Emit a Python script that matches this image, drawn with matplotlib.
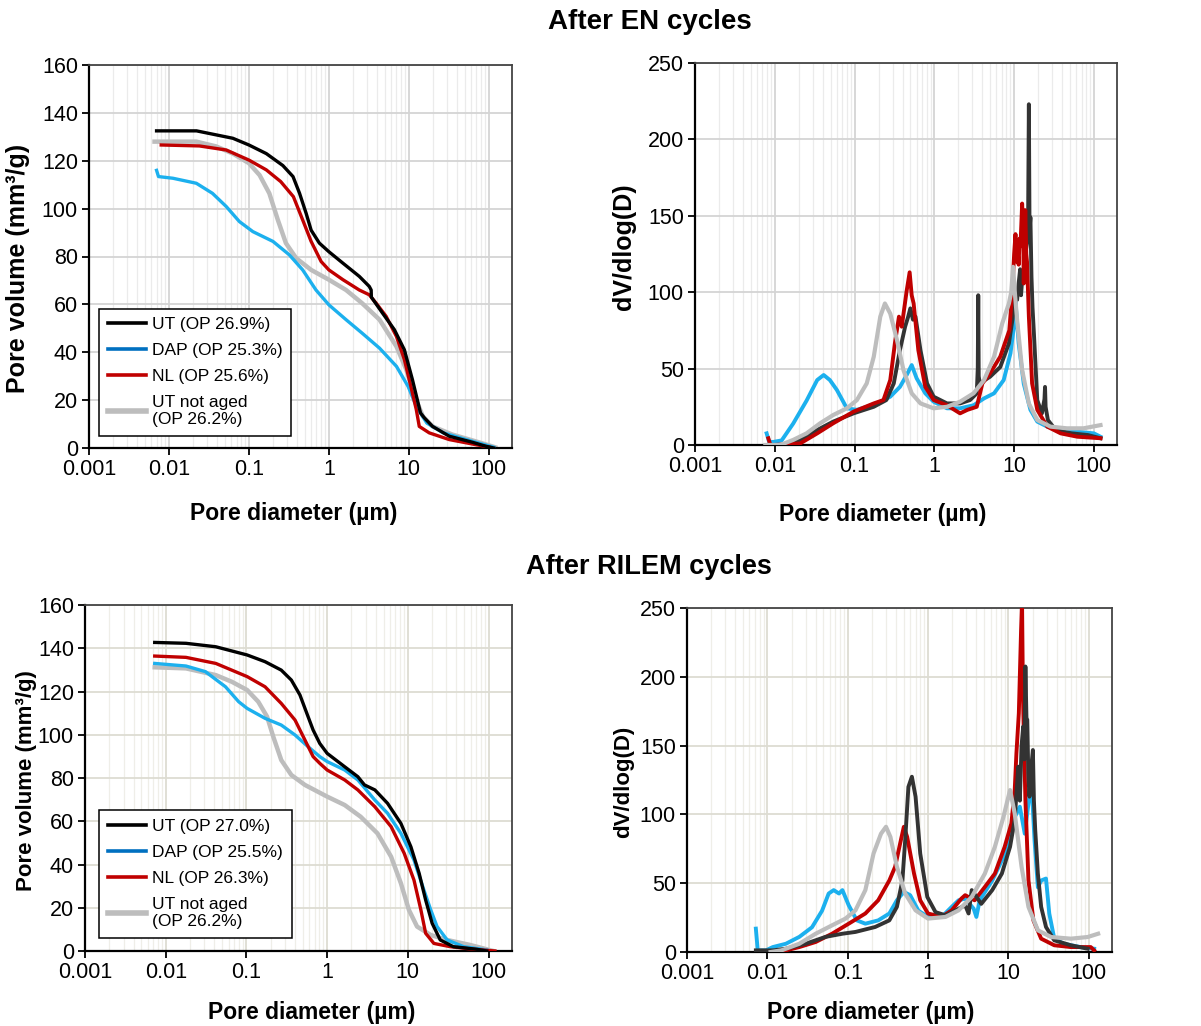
import matplotlib
matplotlib.use('Agg')
import matplotlib.pyplot as plt
from matplotlib.lines import Line2D
from matplotlib.ticker import FixedLocator, LogLocator, NullFormatter, MultipleLocator

plt.rcParams['font.family'] = ['Liberation Sans', 'DejaVu Sans']

# ---------------- data ----------------
# After EN cycles, cumulative pore volume (mm3/g)
en_cum_ut_d = [0.007, 0.0221, 0.063, 0.1, 0.165, 0.266, 0.356, 0.43, 0.52, 0.6, 0.76, 1.0, 1.5, 2.4,
               3.2, 3.38, 3.4, 4.7, 6.6, 8.8, 11.1, 14, 15.7, 19.8, 32, 62, 92, 115]
en_cum_ut_v = [132.5, 132.5, 129.4, 126.6, 123, 118, 113.4, 106.4, 98, 91, 85.6, 82, 77.2, 71.7,
               67.5, 66, 63, 56.3, 49.4, 41, 28.5, 14.6, 12.5, 9, 4.9, 2.4, 0.7, 0]
en_cum_dap_d = [0.007, 0.0074, 0.0112, 0.022, 0.035, 0.052, 0.076, 0.112, 0.2, 0.32, 0.47, 0.69, 1.0,
                1.64, 2.6, 4.3, 7.0, 9.8, 12.4, 16.8, 27, 52, 115]
en_cum_dap_v = [116, 113.4, 112.7, 110.6, 106.4, 100.9, 94.6, 90.4, 86.3, 80.7, 74.4, 66, 59.8,
                53.6, 48, 41.7, 34.1, 25.7, 17.4, 10.4, 6.3, 3.5, 0.3]
en_cum_nl_d = [0.008, 0.024, 0.052, 0.1, 0.165, 0.25, 0.36, 0.47, 0.6, 0.8, 1.0, 1.5, 2.4, 3.2, 3.9,
               5.2, 7.0, 8.8, 10.6, 12.4, 13.5, 18, 32, 68, 100]
en_cum_nl_v = [126.6, 126.2, 124.5, 120.3, 116.2, 111.3, 105, 95.3, 86.3, 77.9, 74.4, 70.3, 66, 64,
               60.5, 55, 46.6, 36.9, 25.7, 16, 9, 6.3, 3.5, 1.4, 0.4]
en_cum_na_d = [0.0066, 0.022, 0.039, 0.063, 0.1, 0.136, 0.18, 0.23, 0.29, 0.39, 0.6, 1.0, 1.64, 2.6,
               4.3, 7.0, 9.3, 11.8, 15, 19.8, 35, 68, 120]
en_cum_na_v = [128, 128, 126, 123, 119, 114, 106.4, 95.3, 85.6, 79.3, 74.4, 70.3, 66, 60.5,
               53.6, 42.4, 32.7, 21.6, 13.2, 9, 5.6, 2.8, 0.3]

# After EN cycles, dV/dlog(D)
en_psd_ut_d = [0.0096, 0.0141, 0.0208, 0.034, 0.054, 0.097, 0.174, 0.25, 0.31, 0.37, 0.43, 0.47, 0.5,
               0.54, 0.58, 0.67, 0.81, 0.98, 1.44, 2.1, 2.8, 3.4, 3.5, 3.55, 3.6, 3.7, 5.0, 6.7, 8.6,
               9.9, 10.4, 10.9, 11.4, 11.9, 12.2, 12.6, 13.2, 13.8, 14.5, 15.0, 15.3, 15.6, 16.0,
               16.5, 17.0, 17.7, 19.5, 22.3, 24.0, 24.4, 24.8, 26.5, 33.2, 52.6, 84, 121]
en_psd_ut_v = [0, 0, 3.3, 9.8, 15.3, 20.7, 25, 29.4, 40.3, 62, 77.4, 84, 89.4, 82, 84, 62, 40.3,
               31.6, 27.2, 27.2, 29.4, 33.8, 50, 98, 45, 40.3, 44.7, 51, 66.5,
               88, 100, 95, 106, 115, 98, 108, 110, 125, 132, 155, 223, 140, 149,
               110, 90, 73, 29.4, 20.7, 30, 38, 25, 16.3, 9.8, 7.6, 6.5, 4.4]
en_psd_dap_d = [0.0079, 0.0085, 0.0096, 0.0122, 0.017, 0.025, 0.034, 0.041, 0.049, 0.06, 0.08,
                0.107, 0.142, 0.21, 0.28, 0.37, 0.45, 0.52, 0.6, 0.77, 0.98, 1.44, 2.1, 3.1, 4.2,
                5.6, 7.4, 9.0, 9.9, 10.4, 11.4, 13.2, 16, 19.5, 26, 38.3, 62, 100, 121]
en_psd_dap_v = [7.6, 2, 2, 3, 14, 29, 42.5, 45.8, 42.5, 36, 24, 23, 25, 28.3, 31.6, 38, 45.8,
                52.3, 43.6, 33.8, 28.3, 24, 24, 26, 30.5, 33.8, 42.5, 60, 77, 93.7, 66.5, 40,
                23, 15.3, 12, 9.8, 8.7, 7.6, 5.4]
en_psd_nl_d = [0.0083, 0.0088, 0.0096, 0.0208, 0.034, 0.054, 0.097, 0.174, 0.23, 0.28, 0.32, 0.36,
               0.39, 0.45, 0.49, 0.52, 0.55, 0.63, 0.77, 0.98, 1.44, 2.1, 2.6, 3.4, 4.0, 5.0, 6.7,
               8.7, 9.5, 10.0, 10.4, 10.7, 11.0, 11.4, 11.7, 12.0, 12.6, 13.0, 13.2, 13.8, 14.2,
               14.5, 15.3, 16.8, 19.5, 26, 38.3, 62, 121]
en_psd_nl_v = [4.4, 0, 0, 1, 7.6, 14.2, 21.8, 27.2, 29.4, 42.5, 66.5, 84, 77.4, 101, 113, 98,
               92.6, 62, 38, 29.4, 26, 20.7, 23, 25, 40.3, 47, 57.8, 75, 101, 125, 138, 120, 130,
               118, 135, 130, 158, 140, 105.7, 153.7, 125, 120, 84, 40.3, 23, 12, 7.6, 5.4, 4.4]
en_psd_na_d = [0.0076, 0.0117, 0.017, 0.025, 0.037, 0.054, 0.08, 0.107, 0.142, 0.174, 0.21, 0.24,
               0.28, 0.34, 0.41, 0.52, 0.67, 0.98, 1.44, 2.1, 3.1, 4.2, 5.6, 7.1, 8.6, 9.2, 9.7,
               10.2, 10.9, 12.6, 15.3, 19.5, 28.6, 46, 74, 121]
en_psd_na_v = [0, 0, 3.3, 7.6, 14.2, 19.6, 24, 29.4, 40.3, 57.8, 84, 92.6, 86, 68.7, 49, 33.8,
               27.2, 24, 25, 28.3, 33.8, 42.5, 57.8, 79.6, 92.6, 100, 116.6, 100, 81.7, 49, 27.2,
               16.3, 12, 10.9, 10.9, 13]

# After RILEM cycles, cumulative pore volume (mm3/g)
ri_cum_ut_d = [0.0073, 0.0178, 0.0417, 0.102, 0.17, 0.27, 0.36, 0.46, 0.56, 0.67, 0.81, 1.0, 1.65,
               2.4, 2.9, 3.9, 5.6, 8.2, 10.9, 13.8, 16.6, 20, 25.2, 36.6, 71, 95]
ri_cum_ut_v = [142.7, 142.3, 140.7, 136.9, 133.8, 129.9, 125.3, 118.4, 109.9, 102.2, 96, 91.4,
               85.2, 80.6, 76.8, 74.5, 68.3, 59, 48.2, 35.9, 23.6, 12.8, 5.1, 2, 0.8, 0]
ri_cum_dap_d = [0.0073, 0.0178, 0.031, 0.055, 0.08, 0.102, 0.17, 0.27, 0.4, 0.58, 0.81, 1.0, 1.65,
                2.4, 3.9, 5.6, 8.2, 11.9, 15.8, 19.2, 23, 30.7, 49, 95]
ri_cum_dap_v = [133, 131.8, 129.2, 122.2, 115.3, 112.2, 107.6, 104.5, 99.9, 94.5, 89.9, 87.6, 83.7,
                79.1, 69.8, 63.7, 54.4, 42.1, 28.2, 19, 11.3, 5.1, 2, 0.5]
ri_cum_nl_d = [0.0073, 0.0178, 0.0417, 0.102, 0.17, 0.27, 0.4, 0.53, 0.67, 0.81, 1.0, 1.65, 2.4,
               3.9, 6.2, 9.0, 11.9, 14.5, 16.6, 21, 33.5, 65, 120]
ri_cum_nl_v = [136.4, 135.8, 133, 126.9, 122.2, 114.5, 106.8, 97.6, 89.9, 86.8, 83.7, 79.1, 74.5,
               66.7, 57.5, 45.2, 32.8, 19, 8.2, 3.5, 2, 0.8, 0]
ri_cum_na_d = [0.0073, 0.0178, 0.0417, 0.066, 0.102, 0.14, 0.18, 0.215, 0.27, 0.36, 0.53, 1.0, 1.65,
               2.6, 4.2, 6.2, 8.2, 10.3, 13, 19.2, 30.7, 59, 115]
ri_cum_na_v = [131.2, 130.7, 127.6, 124.5, 120.7, 115.3, 108.4, 99.1, 88.3, 81.4, 76.8, 71.4, 67.5,
               62.1, 54.4, 43.6, 31.3, 19, 11.3, 7.4, 5.1, 2.8, 0]

# After RILEM cycles, dV/dlog(D)
ri_psd_ut_d = [0.0072, 0.0117, 0.017, 0.03, 0.053, 0.086, 0.125, 0.22, 0.33, 0.41, 0.48, 0.52, 0.57,
               0.63, 0.7, 0.8, 0.98, 1.24, 1.65, 2.2, 2.9, 3.2, 3.5, 4.6, 6.3, 8.3, 10.5, 12, 12.6,
               13.3, 13.9, 14.6, 15.3, 15.8, 16.3, 16.8, 17.2, 17.7, 18.3, 18.8, 19.3, 20.2, 20.8,
               21.6, 23.3, 25.6, 29.4, 37.3, 60, 97]
ri_psd_ut_v = [1.2, 1.2, 2.4, 6, 11, 13.3, 14.6, 18.2, 23, 32.8, 52, 81.3, 120, 127.4, 112.9, 71.6,
               40, 29, 26.7, 30.3, 34, 28, 45, 35, 45, 57, 76.5, 96, 115,
               134.7, 110, 150, 163.8, 140, 207.5, 170, 168.7, 130, 112.9, 125, 134.7, 146.8, 110,
               88.6, 57, 32.8, 18.2, 8.5, 4.9, 2.4]
ri_psd_dap_d = [0.0072, 0.0076, 0.0096, 0.0117, 0.017, 0.025, 0.036, 0.048, 0.058, 0.067, 0.078,
                0.086, 0.103, 0.13, 0.166, 0.24, 0.33, 0.41, 0.5, 0.6, 0.76, 1.0, 1.48, 1.97, 2.4,
                2.9, 3.7, 4.0, 4.4, 6.3, 8.7, 10, 12, 13.9, 16, 19.3, 21.2, 23.3, 25.6, 29.4, 32.3,
                37.3, 49, 79, 117]
ri_psd_dap_v = [17, 1.2, 1.2, 3.6, 6, 11, 18, 30, 42.5, 45, 42.5, 45, 34, 23, 20.6, 23, 28, 37.6,
                43.7, 41.3, 30, 25.5, 25.5, 32.8, 37.6, 38.8, 31.5, 25.5, 37.6, 52, 69, 76.5, 98,
                105.6, 86, 125, 81, 47, 52, 53.4, 28, 9.7, 6, 3.6, 2.4]
ri_psd_nl_d = [0.014, 0.025, 0.04, 0.064, 0.103, 0.166, 0.24, 0.33, 0.39, 0.45, 0.5, 0.55, 0.67, 0.8,
               1.0, 1.48, 1.97, 2.6, 2.9, 3.8, 5.1, 6.8, 9.0, 10.9, 12, 12.6, 13.5, 14.4, 14.8,
               15.2, 16.3, 17.8, 20.5, 25.6, 37.3, 60, 106, 117]
ri_psd_nl_v = [0, 3.6, 7.3, 13.3, 20.6, 28, 37.6, 52, 62, 78.9, 91, 83.7, 57, 37.6, 28, 25.5, 30.3,
               38.8, 41.3, 37.6, 47.3, 57, 76.5, 93.4, 117.7, 144.4, 173.5, 234, 255, 185.7, 110.4,
               52, 23, 9.7, 4.9, 3.6, 3.6, 1.2]
ri_psd_na_d = [0.011, 0.015, 0.025, 0.04, 0.064, 0.094, 0.125, 0.166, 0.21, 0.26, 0.3, 0.34, 0.41,
               0.52, 0.7, 1.0, 1.65, 2.4, 3.5, 5.1, 6.8, 8.7, 10.5, 12, 14.6, 17.8, 23.3, 34, 60,
               97, 131]
ri_psd_na_v = [0, 1.2, 6, 13.3, 19.4, 24.3, 30.3, 45, 71.6, 86, 91, 83.7, 62, 42.5, 30.3, 24.3,
               25.5, 30.3, 40, 57, 76.5, 98.3, 117.7, 100.7, 62, 32.8, 15.8, 10.9, 9.7, 10.9, 13.3]

en_labels = ['UT (OP 26.9%)', 'DAP (OP 25.3%)', 'NL (OP 25.6%)', 'UT not aged\n(OP 26.2%)']
ri_labels = ['UT (OP 27.0%)', 'DAP (OP 25.5%)', 'NL (OP 26.3%)', 'UT not aged\n(OP 26.2%)']
x_ticks = [0.001, 0.01, 0.1, 1, 10, 100]
x_tick_labels = ['0.001', '0.01', '0.1', '1', '10', '100']

# colours
c_black = '#000000'
c_dark = '#333333'
c_blue = '#1cb0ee'
c_legblue = '#0070c0'
c_red = '#c00000'
c_gray = '#bdbdbd'


def style_axes(ax, ymax, ystep, major_c, minor_c):
    ax.set_xscale('log')
    ax.set_xlim(0.001, 195)
    ax.set_ylim(0, ymax)
    ax.xaxis.set_major_locator(FixedLocator(x_ticks))
    ax.set_xticklabels(x_tick_labels)
    ax.xaxis.set_minor_locator(LogLocator(base=10, subs=range(2, 10)))
    ax.xaxis.set_minor_formatter(NullFormatter())
    ax.yaxis.set_major_locator(MultipleLocator(ystep))
    ax.grid(which='major', axis='both', color=major_c, lw=1.3, zorder=0)
    ax.grid(which='minor', axis='x', color=minor_c, lw=0.9, zorder=0)
    ax.set_axisbelow(True)
    ax.tick_params(which='major', direction='out', length=5, width=1.3, labelsize=15.5,
                   pad=3, color='black')
    ax.tick_params(which='minor', length=0)
    for s in ['left', 'bottom']:
        ax.spines[s].set_color('black')
        ax.spines[s].set_linewidth(1.6)
    for s in ['top', 'right']:
        ax.spines[s].set_color('#444444')
        ax.spines[s].set_linewidth(1.3)


def add_legend(ax, labels, anchor):
    handles = [Line2D([], [], color=c_black, lw=2.6),
               Line2D([], [], color=c_legblue, lw=2.6),
               Line2D([], [], color=c_red, lw=2.6),
               Line2D([], [], color=c_gray, lw=4)]
    leg = ax.legend(handles, labels, loc='lower left', bbox_to_anchor=anchor,
                    borderaxespad=0, fontsize=12.5, frameon=True, fancybox=False,
                    edgecolor='black', framealpha=1, handlelength=2.2,
                    handletextpad=0.35, labelspacing=0.62, borderpad=0.5)
    leg.get_frame().set_linewidth(1.1)


fig = plt.figure(figsize=(12.01, 10.26), dpi=100)

ax_tl = fig.add_axes([0.0741, 0.5634, 0.3522, 0.3732])
ax_tr = fig.add_axes([0.5787, 0.5663, 0.3514, 0.3723])
ax_bl = fig.add_axes([0.0708, 0.0731, 0.3555, 0.3372])
ax_br = fig.add_axes([0.5720, 0.0721, 0.3539, 0.3353])

# top left
style_axes(ax_tl, 160, 20, '#d4d4d4', '#ebebeb')
ax_tl.plot(en_cum_na_d, en_cum_na_v, color=c_gray, lw=3.2, zorder=2)
ax_tl.plot(en_cum_dap_d, en_cum_dap_v, color=c_blue, lw=2.4, zorder=3)
ax_tl.plot(en_cum_nl_d, en_cum_nl_v, color=c_red, lw=2.4, zorder=4)
ax_tl.plot(en_cum_ut_d, en_cum_ut_v, color=c_black, lw=2.4, zorder=5)
add_legend(ax_tl, en_labels, (0.024, 0.031))

# top right
style_axes(ax_tr, 250, 50, '#d4d4d4', '#ebebeb')
ax_tr.plot(en_psd_dap_d, en_psd_dap_v, color=c_blue, lw=2.8, zorder=2)
ax_tr.plot(en_psd_ut_d, en_psd_ut_v, color=c_dark, lw=2.8, zorder=3)
ax_tr.plot(en_psd_nl_d, en_psd_nl_v, color=c_red, lw=2.8, zorder=4)
ax_tr.plot(en_psd_na_d, en_psd_na_v, color=c_gray, lw=3.0, zorder=5)

# bottom left
style_axes(ax_bl, 160, 20, '#dddcd2', '#efeee8')
ax_bl.plot(ri_cum_na_d, ri_cum_na_v, color=c_gray, lw=3.2, zorder=2)
ax_bl.plot(ri_cum_dap_d, ri_cum_dap_v, color=c_blue, lw=2.4, zorder=3)
ax_bl.plot(ri_cum_nl_d, ri_cum_nl_v, color=c_red, lw=2.4, zorder=4)
ax_bl.plot(ri_cum_ut_d, ri_cum_ut_v, color=c_black, lw=2.4, zorder=5)
add_legend(ax_bl, ri_labels, (0.033, 0.038))

# bottom right
style_axes(ax_br, 250, 50, '#dddcd2', '#efeee8')
ax_br.plot(ri_psd_dap_d, ri_psd_dap_v, color=c_blue, lw=2.8, zorder=2)
ax_br.plot(ri_psd_nl_d, ri_psd_nl_v, color=c_red, lw=2.8, zorder=3)
ax_br.plot(ri_psd_ut_d, ri_psd_ut_v, color=c_dark, lw=2.8, zorder=4)
ax_br.plot(ri_psd_na_d, ri_psd_na_v, color=c_gray, lw=3.0, zorder=5)

# axis labels
for ax, xc, yc, ysize in [(ax_tl, (0.485, -0.17), (-0.168, 0.47), 18),
                          (ax_tr, (0.445, -0.183), (-0.168, 0.52), 18),
                          (ax_bl, (0.53, -0.179), (-0.138, 0.494), 16),
                          (ax_br, (0.433, -0.177), (-0.148, 0.494), 16)]:
    ax.set_xlabel('Pore diameter (µm)', fontsize=16.5, fontweight='bold')
    ax.xaxis.set_label_coords(*xc)
    ax.xaxis.label.set_va('center')
    if ax in (ax_tl, ax_bl):
        ax.set_ylabel('Pore volume (mm³/g)', fontsize=ysize, fontweight='bold')
    else:
        ax.set_ylabel('dV/dlog(D)', fontsize=ysize, fontweight='bold')
    ax.yaxis.set_label_coords(*yc)
    ax.yaxis.label.set_va('center')

fig.text(0.541, 0.9786, 'After EN cycles', ha='center', va='center',
         fontsize=20, fontweight='bold')
fig.text(0.540, 0.4474, 'After RILEM cycles', ha='center', va='center',
         fontsize=19.5, fontweight='bold')

fig.savefig('out.png', dpi=100)
